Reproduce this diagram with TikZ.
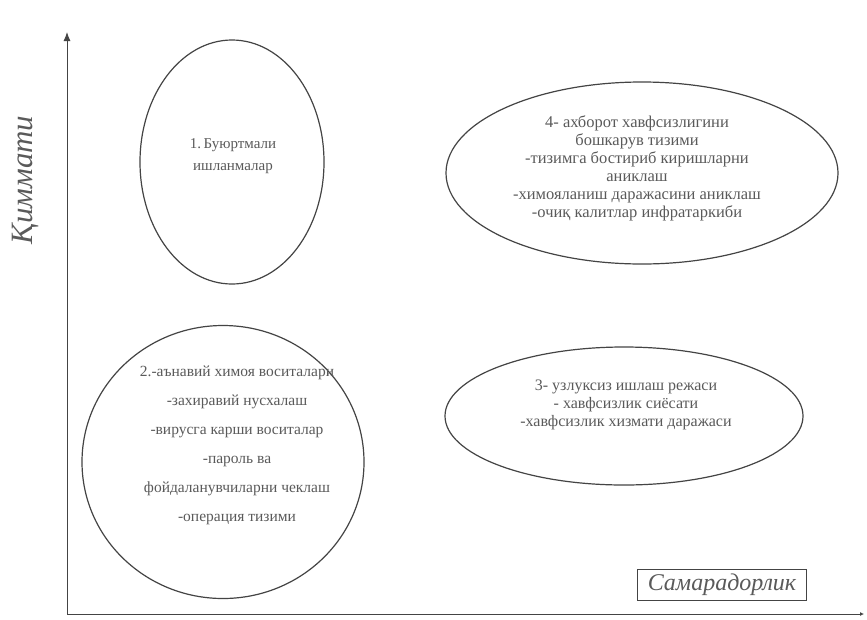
\documentclass[tikz,border=0pt]{standalone}
\usepackage{fontspec}
\setmainfont{Liberation Serif}
\usetikzlibrary{shapes.geometric,arrows.meta}
\definecolor{ink}{HTML}{444444}
\definecolor{txt}{HTML}{5A5A5A}
\tikzset{
  oval/.style={ellipse,draw=ink,line width=1.2pt,inner sep=0pt},
  body/.style={text=txt,align=center,font=\fontsize{16}{18}\selectfont},
  axis/.style={draw=ink,line width=1pt,-{Latex[length=9pt,width=7pt]}}
}
\begin{document}
\begin{tikzpicture}[x=1pt,y=-1pt]
\useasboundingbox[fill=white] (0,0) rectangle (867,619);
% axes
\coordinate (o) at (67,614);
\coordinate (ytop) at (67,32);
\coordinate (xend) at (864,614);
\draw[axis] (o) -- (ytop);
\draw[draw=ink,line width=1pt,-{Latex[length=4pt,width=4pt]}] (o) -- (xend);
% ellipses
\node[oval,minimum width=184pt,minimum height=244pt] (e1) at (232,162) {};
\node[body,font=\fontsize{15}{22}\selectfont] (t1) at (233,156) {1.\,Буюртмали\\ ишланмалар};
\node[oval,minimum width=392pt,minimum height=182pt] (e4) at (642,173) {};
\node[body,font=\fontsize{16.5}{18}\selectfont] (t4) at (637,168) {4- ахборот хавфсизлигини\\ бошкарув тизими\\ -тизимга бостириб киришларни\\ аниклаш\\ -химояланиш даражасини аниклаш\\ -очиқ калитлар инфратаркиби};
\node[oval,minimum width=282pt,minimum height=273pt] (e2) at (223,462) {};
\node[body,font=\fontsize{15.5}{29}\selectfont] (t2) at (237,445) {2.-аънавий химоя воситалари\\ -захиравий нусхалаш\\ -вирусга карши воситалар\\ -пароль ва\\ фойдаланувчиларни чеклаш\\ -операция тизими};
\node[oval,minimum width=358pt,minimum height=138pt] (e3) at (624,416) {};
\node[body] (t3) at (626,405) {3- узлуксиз ишлаш режаси\\ - хавфсизлик сиёсати\\ -хавфсизлик хизмати даражаси};
% axis labels
\node[text=txt,font=\fontsize{31}{31}\selectfont\itshape,rotate=90] (yl) at (25,180) {Қиммати};
\node[draw=ink,line width=0.7pt,text=txt,font=\fontsize{24}{24}\selectfont\itshape,minimum width=169pt,minimum height=31pt,inner sep=1pt] (xl) at (722,585) {Самарадорлик};
\end{tikzpicture}
\end{document}
